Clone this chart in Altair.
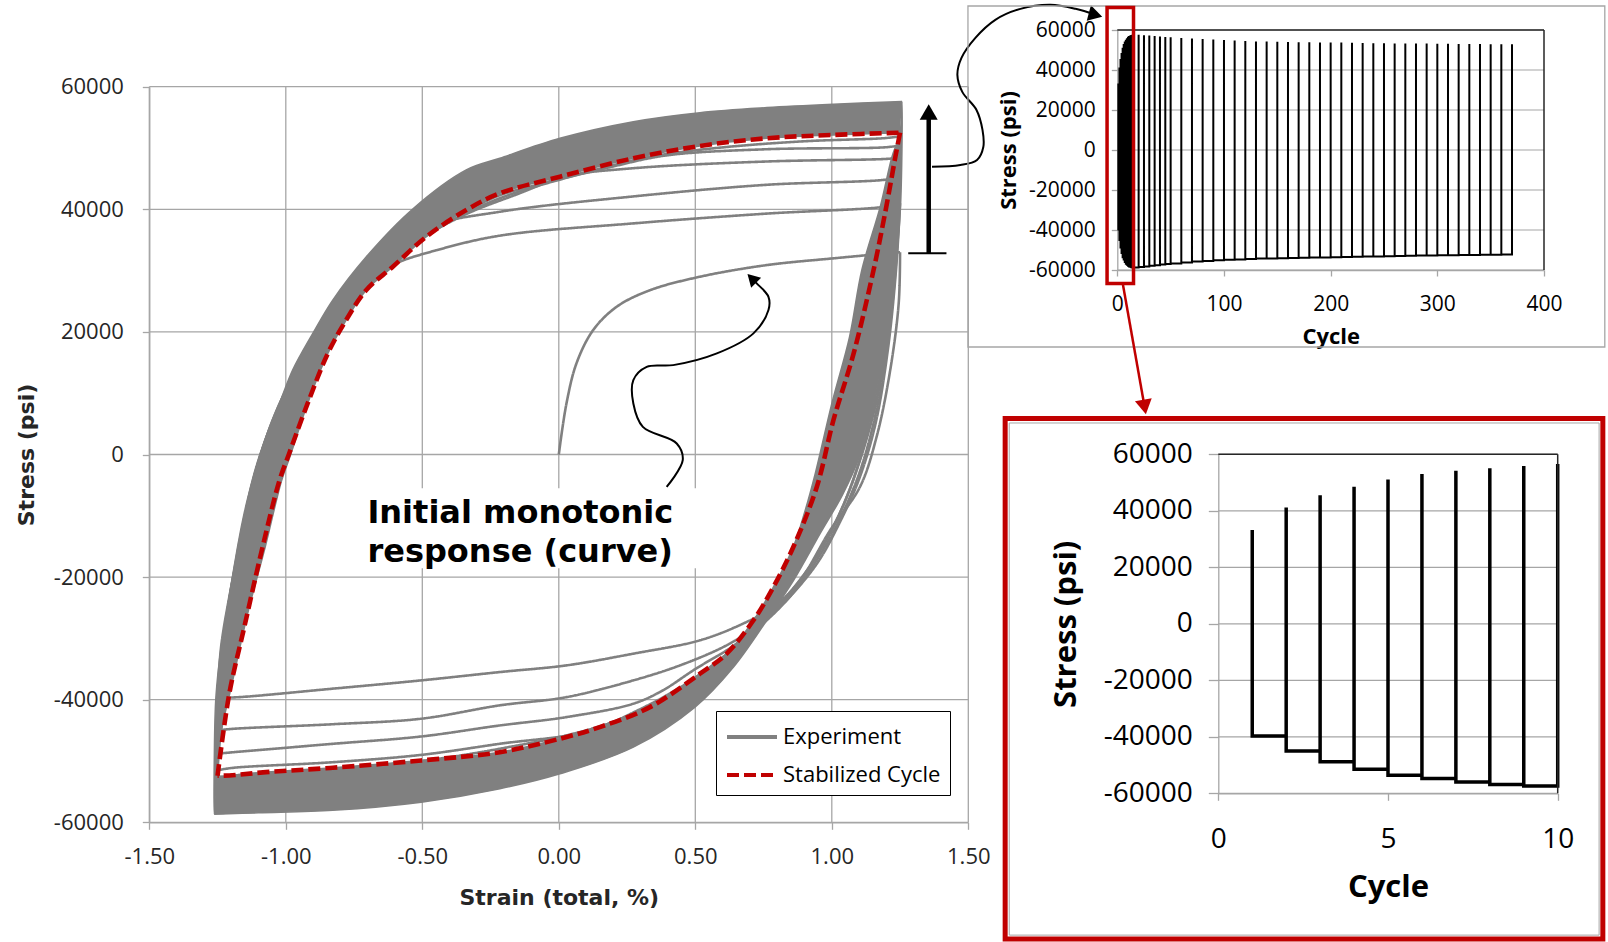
import altair as alt
import pandas as pd

GRAY = "#808080"
RED = "#c00000"
GRID = "#a6a6a6"
LBL = "Open Sans"
BOLD = "DejaVu Sans"

# ------------------------------------------------------------------ main chart
STRAIN_TICKS = [-1.5, -1.0, -0.5, 0.0, 0.5, 1.0, 1.5]
STRESS_TICKS = [-60000, -40000, -20000, 0, 20000, 40000, 60000]

# initial monotonic response
MONO_STRAIN = [0.0, 0.028, 0.065, 0.126, 0.212, 0.334, 0.517, 0.762, 1.006, 1.25]
MONO_STRESS = [0, 8300, 14900, 20300, 24100, 26800, 29000, 30900, 32000, 33000]

# early cycles that are still visible as separate lines (U = loading, D = unloading)
D1_STRAIN = [1.25, 1.245, 1.214, 1.164, 1.103, 0.994, 0.884, 0.786, 0.675, 0.517, 0.273, 0.028, -0.216, -0.504, -0.828, -1.170, -1.25]
D1_STRESS = [33000, 24650, 13770, 2870, -5290, -12360, -20520, -24880, -27590, -30310, -32490, -34400, -35490, -36850, -38200, -39580, -39700]
U2_STRAIN = [-1.25, -1.237, -1.207, -1.17, -1.121, -1.07, -1.01, -0.94, -0.86, -0.77, -0.68, -0.596, -0.45, -0.216, 0.273, 0.762, 1.19, 1.25]
U2_STRESS = [-39700, -31400, -23250, -15100, -4200, 2900, 9000, 15000, 20500, 25500, 29000, 31200, 33300, 35700, 37700, 39300, 40400, 41000]
D2_STRAIN = [1.25, 1.235, 1.205, 1.16, 1.10, 1.03, 0.95, 0.85, 0.74, 0.62, 0.45, 0.273, 0.028, -0.216, -0.504, -0.828, -1.19, -1.25]
D2_STRESS = [41000, 30000, 17000, 5000, -4000, -11000, -17500, -23000, -27500, -31000, -34300, -36850, -39580, -40920, -43100, -44000, -44740, -45000]
U3_STRAIN = [-1.25, -1.24, -1.215, -1.18, -1.135, -1.085, -1.03, -0.96, -0.88, -0.79, -0.69, -0.58, -0.473, -0.216, 0.273, 0.762, 1.19, 1.25]
U3_STRESS = [-45000, -35000, -26000, -17000, -7000, 1000, 7500, 14000, 20000, 25500, 30000, 33700, 37200, 39600, 42100, 44000, 44800, 45300]
D3_STRAIN = [1.25, 1.238, 1.21, 1.165, 1.105, 1.035, 0.955, 0.86, 0.75, 0.63, 0.50, 0.38, 0.273, 0.028, -0.216, -0.504, -0.828, -1.19, -1.25]
D3_STRESS = [45300, 33000, 20000, 7500, -2500, -10000, -16500, -22500, -27500, -31500, -35000, -38500, -40650, -42840, -44200, -46000, -47200, -48560, -48800]
U4_STRAIN = [-1.25, -1.243, -1.22, -1.185, -1.14, -1.09, -1.035, -0.965, -0.885, -0.79, -0.68, -0.55, -0.35, -0.15, 0.028, 0.273, 0.762, 1.19, 1.25]
U4_STRESS = [-48800, -38000, -28000, -18000, -8000, 0, 6500, 13000, 19000, 24500, 29500, 34000, 39000, 42500, 45400, 46700, 47800, 48200, 48400]
D4_STRAIN = [1.25, 1.24, 1.215, 1.17, 1.11, 1.04, 0.96, 0.865, 0.755, 0.63, 0.48, 0.30, 0.10, -0.216, -0.504, -0.828, -1.19, -1.25]
D4_STRESS = [48400, 36000, 23000, 10000, 0, -8500, -15500, -21500, -27000, -32000, -37000, -41500, -45200, -47190, -49000, -50200, -51100, -51500]
U5_STRAIN = [-1.25, -1.245, -1.225, -1.19, -1.145, -1.095, -1.04, -0.97, -0.89, -0.795, -0.69, -0.56, -0.40, -0.216, 0.0, 0.2, 0.395, 0.762, 1.19, 1.25]
U5_STRESS = [-51500, -40000, -29500, -19000, -8500, -500, 6500, 13000, 19000, 24500, 29000, 33500, 38000, 41800, 44800, 47000, 48800, 49800, 50100, 50400]
D5_STRAIN = [1.25, 1.242, 1.22, 1.175, 1.115, 1.045, 0.965, 0.87, 0.76, 0.635, 0.49, 0.30, 0.10, -0.216, -0.504, -0.828, -1.19, -1.25]
D5_STRESS = [50400, 38000, 25000, 12000, 1000, -8000, -15000, -21500, -27000, -32000, -37000, -41800, -45000, -48000, -50000, -51300, -52400, -53000]
U6_STRAIN = [-0.339, -0.216, 0.004, 0.2, 0.35, 0.6, 0.9, 1.19, 1.25]
U6_STRESS = [39700, 42300, 44900, 47200, 48700, 50100, 51100, 51600, 51900]

# dense band of the remaining cycles (outer edge / inner edge)
OUTER_TL_STRAIN = [1.257, 1.006, 0.762, 0.517, 0.273, 0.004, -0.216, -0.339, -0.535, -0.705, -0.828, -0.901, -0.975, -1.023, -1.072, -1.121, -1.170, -1.207, -1.237, -1.256, -1.262, -1.262]
OUTER_TL_STRESS = [57570, 57140, 56590, 55770, 54300, 51590, 48330, 46420, 40050, 32260, 25190, 19760, 13770, 8330, 2870, -4200, -15090, -23250, -31410, -39580, -50000, -58700]
INNER_UP_STRAIN = [-1.25, -1.235, -1.20, -1.14, -1.075, -1.015, -0.982, -0.920, -0.846, -0.779, -0.705, -0.608, -0.485, -0.339, -0.216, 0.004, 0.273, 0.517, 0.762, 1.006, 1.25]
INNER_UP_STRESS = [-52500, -45000, -38000, -26000, -15000, -4200, 0, 8330, 16490, 21930, 26830, 30630, 35530, 39890, 42610, 45320, 48320, 50330, 51590, 52130, 52500]
OUTER_BR_STRAIN = [-1.262, -1.10, -0.828, -0.504, -0.216, 0.004, 0.273, 0.499, 0.640, 0.762, 0.860, 0.957, 1.04, 1.10, 1.153, 1.202, 1.233, 1.251, 1.257, 1.257]
OUTER_BR_STRESS = [-58700, -58450, -58050, -56720, -54530, -52090, -47740, -41210, -34680, -27050, -20520, -12900, -6500, -500, 8330, 19200, 30090, 39890, 50000, 57570]
INNER_DN_STRAIN = [1.25, 1.22, 1.178, 1.11, 1.065, 1.0, 0.94, 0.90, 0.859, 0.786, 0.713, 0.615, 0.517, 0.334, 0.150, 0.004, -0.216, -0.504, -0.828, -1.073, -1.207, -1.25]
INNER_DN_STRESS = [52500, 48500, 40500, 30100, 19200, 8300, -3000, -9500, -15090, -21620, -27050, -32490, -35760, -41210, -44470, -46370, -48560, -49910, -51100, -51820, -52360, -52500]

# stabilized cycle (red dashed)
RED_UP_STRAIN = [-1.25, -1.207, -1.152, -1.085, -1.023, -0.989, -0.920, -0.846, -0.779, -0.705, -0.608, -0.485, -0.339, -0.216, 0.004, 0.273, 0.517, 0.762, 1.006, 1.25]
RED_UP_STRESS = [-52400, -39020, -28150, -15090, -4200, 0, 8330, 16490, 21930, 26830, 30630, 35530, 39890, 42610, 45320, 48320, 50330, 51590, 52130, 52500]
RED_DN_STRAIN = [1.25, 1.233, 1.202, 1.153, 1.080, 1.006, 0.945, 0.859, 0.786, 0.713, 0.615, 0.517, 0.334, 0.150, 0.004, -0.216, -0.504, -0.828, -1.073, -1.207, -1.25]
RED_DN_STRESS = [52500, 48590, 40980, 30090, 16490, 5600, -5290, -15090, -21620, -27050, -32490, -35760, -41210, -44470, -46370, -48560, -49910, -51100, -51820, -52360, -52400]

SERIES = ["Experiment", "Stabilized Cycle"]

# annotations (in strain / stress units)
NOTE_LINES = ["Initial monotonic", "response (curve)"]
NOTE_X, NOTE_Y = -0.701, -11220
NOTE_BOX_X = [-0.72, 0.53]
NOTE_BOX_Y = [-5500, -18560]
MONO_ARROW_STRAIN = [0.395, 0.454, 0.432, 0.308, 0.273, 0.273, 0.322, 0.419, 0.579, 0.713, 0.768, 0.768, 0.725, 0.707]
MONO_ARROW_STRESS = [-5290, -930, 1800, 4510, 8330, 12130, 14300, 14580, 16490, 19760, 23560, 25730, 27920, 28720]
UP_ARROW_X = 1.355
UP_ARROW_Y = [32820, 55870]
UP_BAR_X = [1.280, 1.420]
LINK_STRAIN = [1.367, 1.471, 1.532, 1.555, 1.552, 1.530, 1.478, 1.460, 1.475, 1.526, 1.599, 1.691, 1.801, 1.893, 1.966]
LINK_STRESS = [46960, 47230, 48050, 50170, 52950, 56210, 59150, 61930, 64700, 67970, 70910, 72700, 73360, 72700, 71720]

# ------------------------------------------------------------------ stress vs cycle insets
CYCLES = [1, 2, 3, 4, 5, 6, 7, 8, 9, 10, 11, 12, 13, 14, 15, 20, 25, 30, 35, 40, 45, 50,
          60, 70, 80, 90, 100, 110, 120, 130, 140, 150, 160, 170, 180, 190, 200, 210, 220,
          230, 240, 250, 260, 270, 280, 290, 300, 310, 320, 330, 340, 350, 360, 370]
CYC_MAX = [33200, 41200, 45500, 48500, 51100, 53000, 54200, 55100, 55900, 56600, 57000, 57300, 57500, 57600, 57700,
           57600, 57400, 57200, 57000, 56800, 56500, 56400,
           56000, 55700, 55500, 55200, 55000, 54800, 54500, 54300, 54200, 54100, 54000, 53900, 53900, 53800, 53800,
           53700, 53600, 53500, 53400, 53400, 53300, 53300, 53200, 53200, 53100, 53100, 53000, 53000, 53000, 52900,
           52900, 52900]
CYC_MIN = [-39700, -45000, -48800, -51500, -53600, -54800, -56000, -56900, -57400, -57900, -58200, -58400, -58600, -58700, -58700,
           -58500, -58200, -57900, -57600, -57300, -57000, -56800,
           -56200, -55800, -55500, -55100, -54900, -54700, -54500, -54300, -54200, -54100, -54000, -53900, -53800, -53700, -53600,
           -53500, -53400, -53300, -53200, -53100, -53000, -52900, -52800, -52700, -52600, -52600, -52500, -52500, -52400, -52400,
           -52300, -52300]
TOP_CYCLE_TICKS = [0, 100, 200, 300, 400]
ZOOM_CYCLE_TICKS = [0, 5, 10]

TOP_FRAME_X = [-140, 457]
TOP_FRAME_Y = [72000, -98500]
TOP_MARK_X = [-9.6, 15.2]
TOP_MARK_Y = [71250, -66750]
TOP_LINK_X = [5.06, 25.6]
TOP_LINK_Y = [-66650, -128500]
ZOOM_FRAME_X = [-6.28, 11.33]
ZOOM_FRAME_Y = [72700, -111580]
ZOOM_INNER_X = [-6.16, 11.22]
ZOOM_INNER_Y = [71080, -110200]


def pts(xs, ys, **extra):
    assert len(xs) == len(ys)
    return [dict(x=float(a), y=float(b), i=k, **extra) for k, (a, b) in enumerate(zip(xs, ys))]


MINUS_FIX_2F = "replace(format(datum.value, '.2f'), '\u2212', '-')"
MINUS_FIX_D = "replace(format(datum.value, 'd'), '\u2212', '-')"

# ---------------- main scales / axes
XS = alt.Scale(domain=[-1.5, 1.5], range=[149.3, 968.3], nice=False, zero=False)
YS = alt.Scale(domain=[-60000, 60000], range=[822.3, 86.7], nice=False, zero=False)
CS = alt.Scale(domain=SERIES, range=[GRAY, RED])
DS = alt.Scale(domain=SERIES, range=[[1, 0], [12, 5]])

AX_MAIN_X = alt.Axis(orient="bottom", offset=-(942 - 822.3), values=STRAIN_TICKS, labelExpr=MINUS_FIX_2F,
                     grid=False, domainColor=GRID, domainWidth=1.3, tickColor=GRID, tickWidth=1.3, tickSize=7,
                     labelFont=LBL, labelFontSize=22, labelColor="#262626", labelPadding=17,
                     labelFlush=False, labelOverlap=False,
                     title="Strain (total, %)", titleFont=BOLD, titleFontSize=22, titleFontWeight="bold",
                     titleColor="#262626", titleX=558.8, titleY=75, titleAlign="center", titleBaseline="middle")
AX_MAIN_Y = alt.Axis(orient="left", offset=-149.3, values=STRESS_TICKS, labelExpr=MINUS_FIX_D,
                     grid=False, domainColor=GRID, domainWidth=1.3, tickColor=GRID, tickWidth=1.3, tickSize=7,
                     labelFont=LBL, labelFontSize=22, labelColor="#262626", labelPadding=19,
                     labelFlush=False, labelOverlap=False,
                     title="Stress (psi)", titleFont=BOLD, titleFontSize=22, titleFontWeight="bold",
                     titleColor="#262626", titleX=26 - 149.3, titleY=454.5, titleAngle=270,
                     titleAlign="center", titleBaseline="middle")

LEG = alt.Legend(orient="none", legendX=716, legendY=711, title=None,
                 symbolType="M-1,0H2.333", symbolSize=900, symbolStrokeWidth=4,
                 labelFont=LBL, labelFontSize=22, labelColor="black", labelOffset=24, labelLimit=300,
                 padding=9, rowPadding=10, strokeColor="black", fillColor="white")


def mx():
    return alt.X("x:Q", scale=XS, axis=AX_MAIN_X)


def my():
    return alt.Y("y:Q", scale=YS, axis=AX_MAIN_Y)


vgrid = alt.Chart(pd.DataFrame({"x": STRAIN_TICKS, "y": -60000, "y2": 60000})).mark_rule(
    color=GRID, strokeWidth=1.3).encode(x=mx(), y=my(), y2="y2:Q")
hgrid = alt.Chart(pd.DataFrame({"y": STRESS_TICKS, "x": -1.5, "x2": 1.5})).mark_rule(
    color=GRID, strokeWidth=1.3).encode(y=my(), x=mx(), x2="x2:Q")

note_box = alt.Chart(pd.DataFrame({"x": [NOTE_BOX_X[0]], "x2": [NOTE_BOX_X[1]],
                                   "y": [NOTE_BOX_Y[0]], "y2": [NOTE_BOX_Y[1]]})).mark_rect(
    color="white").encode(x=mx(), x2="x2:Q", y=my(), y2="y2:Q")

band_rows = pts(OUTER_TL_STRAIN + INNER_UP_STRAIN, OUTER_TL_STRESS + INNER_UP_STRESS, poly="a") + \
    pts(OUTER_BR_STRAIN + INNER_DN_STRAIN, OUTER_BR_STRESS + INNER_DN_STRESS, poly="b")
band = alt.Chart(pd.DataFrame(band_rows)).mark_line(
    fill=GRAY, stroke=GRAY, strokeWidth=1.5, interpolate="catmull-rom").encode(
    x=mx(), y=my(), detail="poly:N", order=alt.Order("i:Q"))

branches = [("mono", MONO_STRAIN, MONO_STRESS), ("d1", D1_STRAIN, D1_STRESS), ("u2", U2_STRAIN, U2_STRESS),
            ("d2", D2_STRAIN, D2_STRESS), ("u3", U3_STRAIN, U3_STRESS), ("d3", D3_STRAIN, D3_STRESS),
            ("u4", U4_STRAIN, U4_STRESS), ("d4", D4_STRAIN, D4_STRESS), ("u5", U5_STRAIN, U5_STRESS),
            ("d5", D5_STRAIN, D5_STRESS), ("u6", U6_STRAIN, U6_STRESS)]
exp_rows = []
for name, xs, ys in branches:
    exp_rows += pts(xs, ys, seg=name, series="Experiment")
exp_lines = alt.Chart(pd.DataFrame(exp_rows)).mark_line(strokeWidth=2.6, interpolate="catmull-rom").encode(
    x=mx(), y=my(), detail="seg:N", order=alt.Order("i:Q"),
    color=alt.Color("series:N", scale=CS, legend=LEG),
    strokeDash=alt.StrokeDash("series:N", scale=DS, legend=LEG))

red_rows = pts(RED_UP_STRAIN, RED_UP_STRESS, seg="up", series="Stabilized Cycle") + \
    pts(RED_DN_STRAIN, RED_DN_STRESS, seg="down", series="Stabilized Cycle")
red_line = alt.Chart(pd.DataFrame(red_rows)).mark_line(strokeWidth=4.6, interpolate="catmull-rom").encode(
    x=mx(), y=my(), detail="seg:N", order=alt.Order("i:Q"),
    color=alt.Color("series:N", scale=CS, legend=LEG),
    strokeDash=alt.StrokeDash("series:N", scale=DS, legend=LEG))

note_text = alt.Chart(pd.DataFrame({"x": [NOTE_X], "y": [NOTE_Y]})).mark_text(
    font=BOLD, fontWeight="bold", fontSize=32, align="left", baseline="alphabetic", lineHeight=39,
    color="black").encode(x=mx(), y=my(), text=alt.value(NOTE_LINES))

mono_arrow = alt.Chart(pd.DataFrame(pts(MONO_ARROW_STRAIN, MONO_ARROW_STRESS))).mark_line(
    color="black", strokeWidth=2, interpolate="catmull-rom").encode(x=mx(), y=my(), order=alt.Order("i:Q"))
mono_head = alt.Chart(pd.DataFrame({"x": [MONO_ARROW_STRAIN[-1]], "y": [MONO_ARROW_STRESS[-1]]})).mark_point(
    shape="triangle-up", angle=315, size=200, filled=True, color="black", opacity=1, strokeWidth=0).encode(
    x=mx(), y=my())

up_shaft = alt.Chart(pd.DataFrame({"x": [UP_ARROW_X], "y": [UP_ARROW_Y[0]], "y2": [UP_ARROW_Y[1]]})).mark_rule(
    color="black", strokeWidth=4.5).encode(x=mx(), y=my(), y2="y2:Q")
up_head = alt.Chart(pd.DataFrame({"x": [UP_ARROW_X], "y": [UP_ARROW_Y[1]]})).mark_point(
    shape="triangle-up", size=324, filled=True, color="black", opacity=1, strokeWidth=0).encode(x=mx(), y=my())
up_bar = alt.Chart(pd.DataFrame({"x": [UP_BAR_X[0]], "x2": [UP_BAR_X[1]], "y": [UP_ARROW_Y[0]]})).mark_rule(
    color="black", strokeWidth=2).encode(x=mx(), x2="x2:Q", y=my())

link = alt.Chart(pd.DataFrame(pts(LINK_STRAIN, LINK_STRESS))).mark_line(
    color="black", strokeWidth=2, interpolate="catmull-rom").encode(x=mx(), y=my(), order=alt.Order("i:Q"))
link_head = alt.Chart(pd.DataFrame({"x": [LINK_STRAIN[-1]], "y": [LINK_STRESS[-1]]})).mark_point(
    shape="triangle-right", angle=15, size=256, filled=True, color="black", opacity=1, strokeWidth=0).encode(
    x=mx(), y=my())

main = alt.layer(vgrid, hgrid, note_box, band, exp_lines, red_line, note_text, mono_arrow, mono_head,
                 up_shaft, up_head, up_bar, link, link_head)

# ---------------- insets
cyc_rows = []
prev = 0
for c, hi, lo in zip(CYCLES, CYC_MAX, CYC_MIN):
    cyc_rows += [dict(x=c, y=prev), dict(x=c, y=hi), dict(x=c, y=lo)]
    prev = lo
for k, r in enumerate(cyc_rows):
    r["i"] = k
cyc_df = pd.DataFrame(cyc_rows)


def inset(xdom, xrange_px, yrange_px, xticks, rows_df, line_w, lab_size, title_size, tick_x, tick_y,
          lab_pad_x, lab_pad_y, xtitle_xy, ytitle_xy, extra_layers_fn):
    xs = alt.Scale(domain=xdom, range=xrange_px, nice=False, zero=False)
    ys = alt.Scale(domain=[-60000, 60000], range=yrange_px, nice=False, zero=False)
    ax_x = alt.Axis(orient="bottom", offset=-(942 - yrange_px[0]), values=xticks, format="d", grid=False,
                    domainColor=GRID, domainWidth=1.3, tickColor=GRID, tickWidth=1.3, tickSize=tick_x,
                    labelFont=LBL, labelFontSize=lab_size, labelColor="black", labelPadding=lab_pad_x,
                    labelFlush=False, labelOverlap=False,
                    title="Cycle", titleFont=LBL, titleFontSize=title_size, titleFontWeight="bold",
                    titleColor="black", titleX=xtitle_xy[0], titleY=xtitle_xy[1],
                    titleAlign="center", titleBaseline="middle")
    ax_y = alt.Axis(orient="left", offset=-xrange_px[0], values=STRESS_TICKS, labelExpr=MINUS_FIX_D, grid=False,
                    domainColor=GRID, domainWidth=1.3, tickColor=GRID, tickWidth=1.3, tickSize=tick_y,
                    labelFont=LBL, labelFontSize=lab_size, labelColor="black", labelPadding=lab_pad_y,
                    labelFlush=False, labelOverlap=False,
                    title="Stress (psi)", titleFont=LBL, titleFontSize=title_size, titleFontWeight="bold",
                    titleColor="black", titleX=ytitle_xy[0], titleY=ytitle_xy[1], titleAngle=270,
                    titleAlign="center", titleBaseline="middle")

    def ix():
        return alt.X("x:Q", scale=xs, axis=ax_x)

    def iy():
        return alt.Y("y:Q", scale=ys, axis=ax_y)

    grid = alt.Chart(pd.DataFrame({"y": STRESS_TICKS, "x": xdom[0], "x2": xdom[1]})).mark_rule(
        color=GRID, strokeWidth=1.2).encode(y=iy(), x=ix(), x2="x2:Q")
    frame = alt.Chart(pd.DataFrame({"x": [xdom[0], xdom[1]], "x2": [xdom[1], xdom[1]],
                                    "y": [60000, -60000], "y2": [60000, 60000]})).mark_rule(
        color="#262626", strokeWidth=1.5).encode(x=ix(), x2="x2:Q", y=iy(), y2="y2:Q")
    data = alt.Chart(rows_df).mark_line(color="black", strokeWidth=line_w, interpolate="linear").encode(
        x=ix(), y=iy(), order=alt.Order("i:Q"))
    return alt.layer(*extra_layers_fn(ix, iy, "pre"), grid, data, frame, *extra_layers_fn(ix, iy, "post"))


def top_extras(ix, iy, when):
    if when == "pre":
        return [alt.Chart(pd.DataFrame({"x": [TOP_FRAME_X[0]], "x2": [TOP_FRAME_X[1]],
                                        "y": [TOP_FRAME_Y[0]], "y2": [TOP_FRAME_Y[1]]})).mark_rect(
            fillOpacity=0, stroke=GRID, strokeWidth=1.3).encode(x=ix(), x2="x2:Q", y=iy(), y2="y2:Q")]
    box = alt.Chart(pd.DataFrame({"x": [TOP_MARK_X[0]], "x2": [TOP_MARK_X[1]],
                                  "y": [TOP_MARK_Y[0]], "y2": [TOP_MARK_Y[1]]})).mark_rect(
        fillOpacity=0, stroke=RED, strokeWidth=3.5).encode(x=ix(), x2="x2:Q", y=iy(), y2="y2:Q")
    arrow = alt.Chart(pd.DataFrame(pts(TOP_LINK_X, TOP_LINK_Y))).mark_line(
        color=RED, strokeWidth=2.5).encode(x=ix(), y=iy(), order=alt.Order("i:Q"))
    head = alt.Chart(pd.DataFrame({"x": [TOP_LINK_X[1]], "y": [TOP_LINK_Y[1]]})).mark_point(
        shape="triangle-down", angle=350, size=289, filled=True, color=RED, opacity=1, strokeWidth=0).encode(
        x=ix(), y=iy())
    return [box, arrow, head]


def zoom_extras(ix, iy, when):
    if when == "pre":
        return []
    outer = alt.Chart(pd.DataFrame({"x": [ZOOM_FRAME_X[0]], "x2": [ZOOM_FRAME_X[1]],
                                    "y": [ZOOM_FRAME_Y[0]], "y2": [ZOOM_FRAME_Y[1]]})).mark_rect(
        fillOpacity=0, stroke=RED, strokeWidth=5).encode(x=ix(), x2="x2:Q", y=iy(), y2="y2:Q")
    inner = alt.Chart(pd.DataFrame({"x": [ZOOM_INNER_X[0]], "x2": [ZOOM_INNER_X[1]],
                                    "y": [ZOOM_INNER_Y[0]], "y2": [ZOOM_INNER_Y[1]]})).mark_rect(
        fillOpacity=0, stroke=GRID, strokeWidth=1).encode(x=ix(), x2="x2:Q", y=iy(), y2="y2:Q")
    return [inner, outer]


top = inset([0, 400], [1117.3, 1544], [270, 30], TOP_CYCLE_TICKS, cyc_df, 2, 21, 22, 6, 6, 17, 16,
            (1330.7, 66), (1008 - 1117.3, 150), top_extras)
zoom_df = cyc_df[cyc_df["x"] <= 10]
bottom = inset([0, 10], [1218.3, 1557.7], [793.3, 454.3], ZOOM_CYCLE_TICKS, zoom_df, 3.5, 28, 31, 7, 10, 25, 16,
               (1388, 93.7), (1066 - 1218.3, 623.8), zoom_extras)

chart = alt.layer(main, top, bottom).resolve_scale(x="independent", y="independent").properties(
    width=1608, height=942, padding=0, autosize=alt.AutoSizeParams(type="none"), background="white"
).configure_view(stroke=None)

chart.save("out.html", embed_options={"renderer": "svg", "actions": False})
